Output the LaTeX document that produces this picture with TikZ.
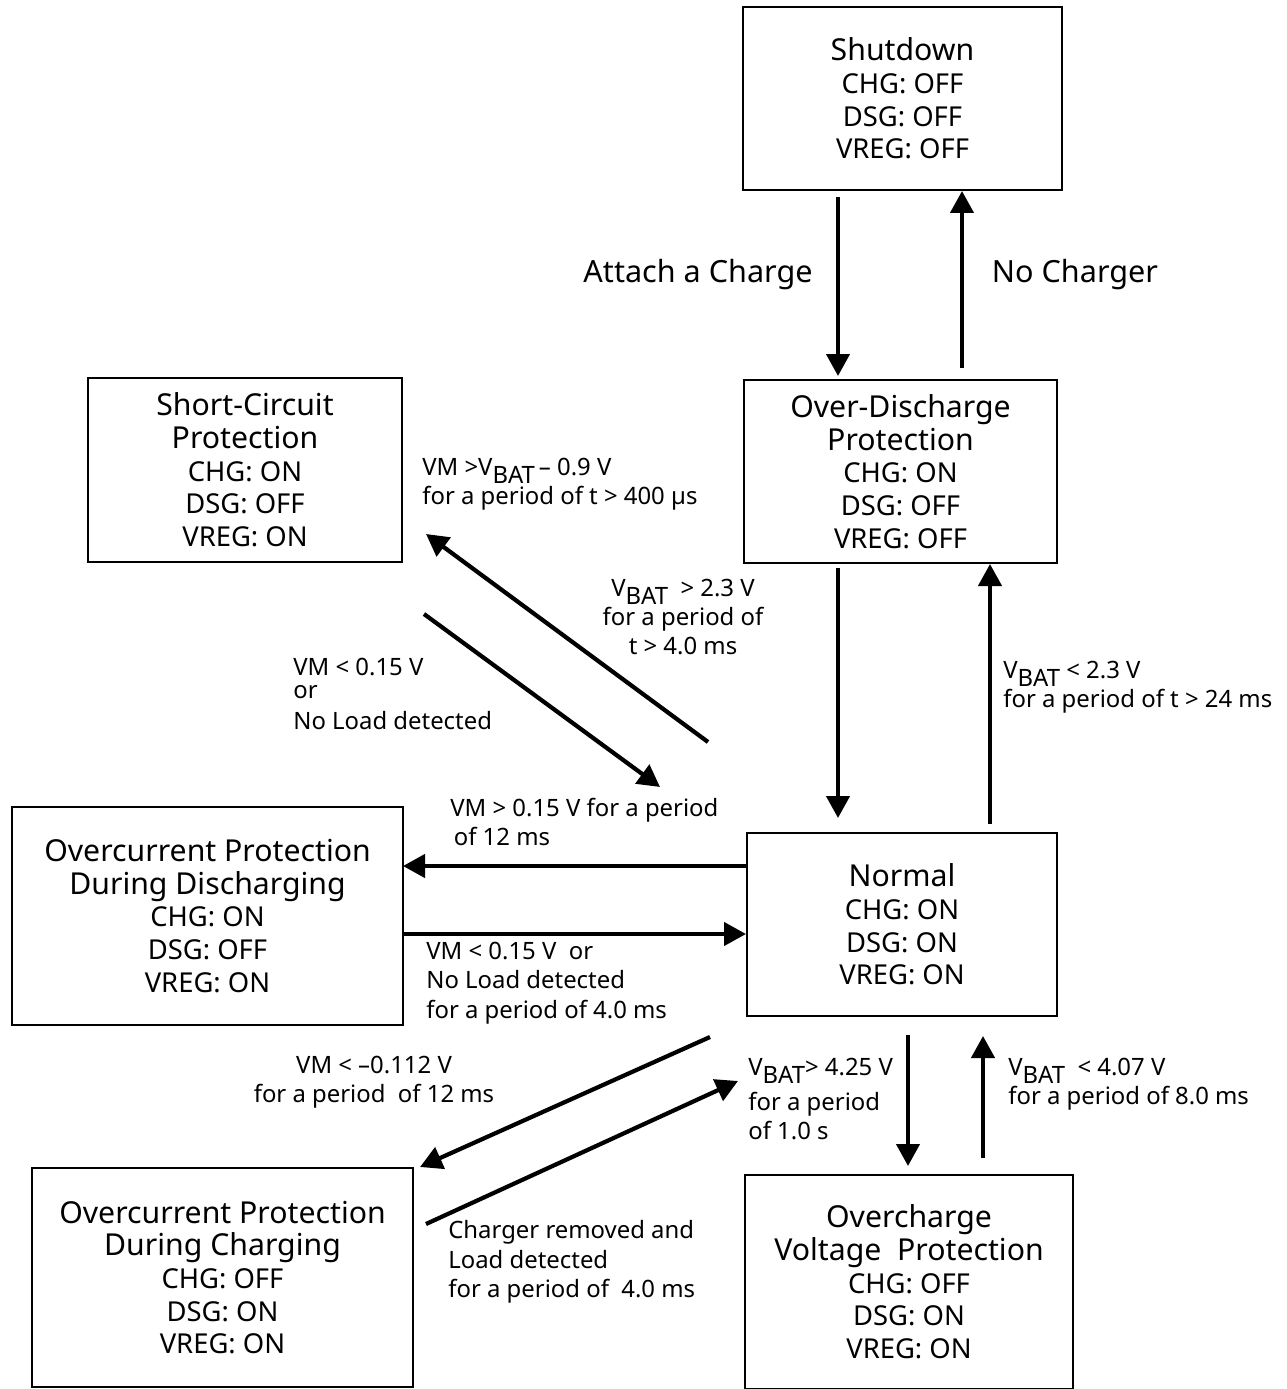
\documentclass[tikz,border=0pt]{standalone}
\usepackage{fontspec}
\setmainfont{Noto Sans}
\usetikzlibrary{arrows.meta,fit}
\newcommand\vbatsub{V\raisebox{-4.5pt}{BAT}}
\begin{document}
\begin{tikzpicture}[x=0.02cm,y=-0.02cm,
  box/.style={draw,line width=0.9pt,inner sep=0pt},
  boxtext/.style={inner sep=0pt,align=center,font=\fontsize{15.6}{18.6}\selectfont},
  arr/.style={line width=2.4pt,-{Triangle[length=0.44cm,width=0.46cm]}},
  lbl/.style={inner sep=0pt,font=\fontsize{13.6}{16.7}\selectfont},
  big/.style={inner sep=0pt,font=\fontsize{17.4}{20}\selectfont}]
\useasboundingbox (0,0) rectangle (1287,1389);
\newcommand\bt[1]{{\fontsize{17.2}{18.6}\selectfont #1}}

% boxes
\node[box,fit={(743,7)(1062,190)}] (shut) {};
\node[box,fit={(744,380)(1057,563)}] (od) {};
\node[box,fit={(88,378)(402,562)}] (sc) {};
\node[box,fit={(12,807)(403,1025)}] (ocd) {};
\node[box,fit={(747,833)(1057,1016)}] (nrm) {};
\node[box,fit={(32,1168)(413,1387)}] (occ) {};
\node[box,fit={(745,1175)(1073,1389)}] (ovc) {};

\node[boxtext] (shut-t) at (shut.center) {\bt{Shutdown}\\CHG: OFF\\DSG: OFF\\VREG: OFF};
\node[boxtext] (od-t) at (od.center) {\bt{Over-Discharge}\\\bt{Protection}\\CHG: ON\\DSG: OFF\\VREG: OFF};
\node[boxtext] (sc-t) at (sc.center) {\bt{Short-Circuit}\\\bt{Protection}\\CHG: ON\\DSG: OFF\\VREG: ON};
\node[boxtext] (ocd-t) at (ocd.center) {\bt{Overcurrent Protection}\\\bt{During Discharging}\\CHG: ON\\DSG: OFF\\VREG: ON};
\node[boxtext] (nrm-t) at (nrm.center) {\bt{Normal}\\CHG: ON\\DSG: ON\\VREG: ON};
\node[boxtext] (occ-t) at (occ.center) {\bt{Overcurrent Protection}\\\bt{During Charging}\\CHG: OFF\\DSG: ON\\VREG: ON};
\node[boxtext] (ovc-t) at (ovc.center) {\bt{Overcharge}\\\bt{Voltage\ \ Protection}\\CHG: OFF\\DSG: ON\\VREG: ON};

% arrow end points
\coordinate (a1s) at (838,197);  \coordinate (a1e) at (838,376);
\coordinate (a2s) at (962,368);  \coordinate (a2e) at (962,191);
\coordinate (a3s) at (838,568);  \coordinate (a3e) at (838,818);
\coordinate (a4s) at (990,824);  \coordinate (a4e) at (990,564);
\coordinate (a5s) at (748,866);  \coordinate (a5e) at (403,866);
\coordinate (a6s) at (403,934);  \coordinate (a6e) at (746,934);
\coordinate (a7s) at (708,742);  \coordinate (a7e) at (426,534);
\coordinate (a8s) at (424,614);  \coordinate (a8e) at (660,787);
\coordinate (a9s) at (710,1037); \coordinate (a9e) at (420,1167);
\coordinate (a10s) at (426,1224); \coordinate (a10e) at (738,1081);
\coordinate (a11s) at (908,1035); \coordinate (a11e) at (908,1166);
\coordinate (a12s) at (983,1158); \coordinate (a12e) at (983,1036);

\draw[arr] (a1s) -- (a1e);
\draw[arr] (a2s) -- (a2e);
\draw[arr] (a3s) -- (a3e);
\draw[arr] (a4s) -- (a4e);
\draw[arr] (a5s) -- (a5e);
\draw[arr] (a6s) -- (a6e);
\draw[arr] (a7s) -- (a7e);
\draw[arr] (a8s) -- (a8e);
\draw[arr] (a9s) -- (a9e);
\draw[arr] (a10s) -- (a10e);
\draw[arr] (a11s) -- (a11e);
\draw[arr] (a12s) -- (a12e);

% labels
\node[big] (l1) at (698,275) {Attach a Charge};
\node[big] (l2) at (1075,275) {No Charger};
\node[lbl,anchor=west,align=left] (l3) at (1003,687) {\vbatsub{} < 2.3 V\\for a period of t > 24 ms};
\node[lbl,anchor=west,align=left] (l4) at (422,484) {VM >\vbatsub\,– 0.9 V\\for a period of t > 400 µs};
\node[lbl,align=center] (l5) at (683,617) {\vbatsub\ \ > 2.3 V\\for a period of\\t > 4.0 ms};
\node[lbl,anchor=west,align=left] (l6) at (293,694) {VM < 0.15 V\\[-3.5pt]or\\[1pt]No Load detected};
\node[lbl,anchor=west,align=left] (l7) at (450,822) {VM > 0.15 V for a period\\\hspace{2pt}of 12 ms};
\node[lbl,anchor=west,align=left] (l8) at (426,983) {VM < 0.15 V\ \ or\\No Load detected\\for a period of 4.0 ms};
\node[lbl,align=center] (l9) at (374,1082) {VM < –0.112 V\\for a period\ \ of 12 ms};
\node[lbl,anchor=west,align=left] (l10) at (748,1099) {\vbatsub> 4.25 V\\[3pt]for a period\\of 1.0 s};
\node[lbl,anchor=west,align=left] (l11) at (1008,1084) {\vbatsub\ \ < 4.07 V\\for a period of 8.0 ms};
\node[lbl,anchor=west,align=left] (l12) at (448,1262) {Charger removed and\\Load detected\\for a period of\ \ 4.0 ms};
\end{tikzpicture}
\end{document}
